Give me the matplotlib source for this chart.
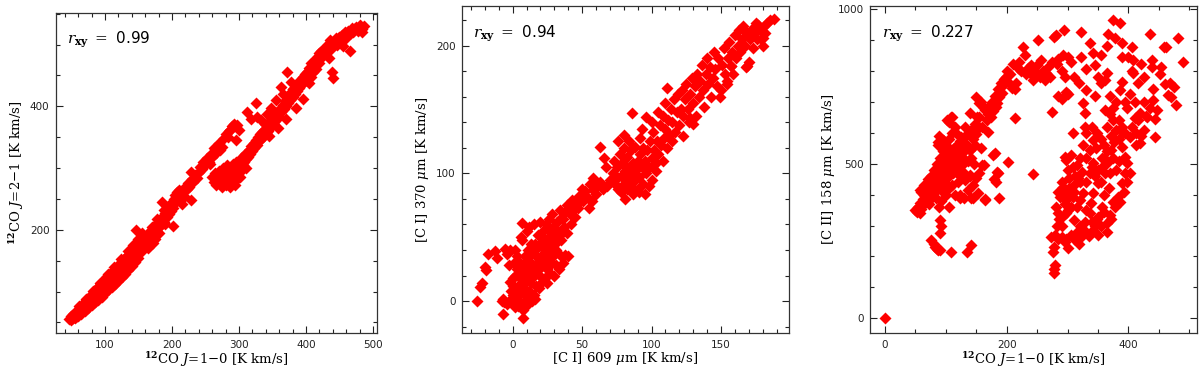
import numpy as np
import matplotlib
matplotlib.use('Agg')
import matplotlib.pyplot as plt
from matplotlib.ticker import MultipleLocator

plt.rcParams['font.family'] = ['DejaVu Serif']
plt.rcParams['mathtext.fontset'] = 'dejavuserif'

# ---- panel 1 : 12CO 2-1 vs 12CO 1-0
co10_a = [47,50,50,52,53,55,55,56,58,58,60,60,61,62,63,64,65,66,67,67,68,69,70,71,72,72,73,74,75,76,77,77,78,79,80,81,82,82,83,84,85,86,87,87,88,89,90,91,92,92,93,94,95,96,97,97,98,99,100,101,102,102,103,104,105,106,107,108,109,110,111,112,113,114,115,116,117,118,119,120,122,123,124,126,127,128,130,131,132,
          60,65,70,75,80,85,90,95,100,105,110,115,120,125,130,135,140,145,150,
          62,72,82,92,104,114,124,134,140,
          135,142,150,155,160,165,170,175,180,190,195,188,178,
          131,133,135,136,138,140,141,143,145,146,147,148,150,151,152,154,155,156,157,158,160,161,163,164,165,167,168,170,172,173,175,176,178,180,181,183,184,185,186,188,190,192,193,195,197,198,200,202,202,
          203,205,206,208,209,210,211,213,215,216,218,220,222,224,226,228,229,230,232,233,235,238,240,242,245,247,250,252,255,257,258,260,262,264,
          260,262,264,266,268,270,272,274,275,276,278,279,280,281,282,284,285,286,287,288,289,290,291,292,293,294,295,296,297,298,299,300,301,302,303,304,305,306,308,309,310,
          265,268,270,272,275,278,280,283,285,287,290,293,295,297,300,
          310,312,313,315,316,318,320,322,323,325,327,328,330,332,334,335,337,338,340,342,343,345,347,348,350,352,353,355,357,358,360,362,363,365,367,368,370,372,373,375,376,378,380,381,383,385,386,388,390,391,393,395,397,398,400,
          312,318,325,327,333,339,342,348,355,362,365,372,378,
          402,404,405,407,408,410,411,413,415,417,419,420,422,425,428,430,432,434,436,438,439,441,443,445,447,450,452,454,456,458,460,461,463,466,467,469,470,472,475,477,480,483,486,484,
          345,358,370,385,395,352,366,380]
co21_a = [55,54,60,58,63,57,62,66,60,68,63,71,67,74,65,70,77,68,73,80,70,76,83,73,79,86,76,82,89,78,85,92,81,88,95,84,91,98,87,94,101,89,97,104,92,100,108,95,103,111,98,106,114,101,109,117,104,112,120,107,115,123,110,118,126,113,121,129,116,124,132,119,127,135,122,130,139,125,134,143,130,138,147,134,143,152,138,148,156,
          60,64,69,73,78,83,87,92,97,102,107,112,117,123,128,135,141,148,154,
          76,88,101,114,129,140,152,160,168,
          165,175,185,165,172,180,205,185,195,210,240,232,218,
          150,143,155,148,158,152,162,156,168,160,199,172,165,178,170,182,175,195,185,178,190,183,186,170,195,188,200,193,178,205,198,210,203,212,205,216,208,245,222,213,228,220,233,226,238,230,243,207,236,
          250,256,245,262,252,258,265,248,242,262,255,270,266,276,270,294,249,282,278,280,289,284,293,302,299,310,305,316,310,307,322,318,332,326,
          285,278,292,272,283,296,276,288,270,300,280,292,272,286,305,278,295,270,284,300,276,290,306,280,296,272,287,310,282,298,292,305,285,312,295,300,318,305,310,322,300,
          325,335,340,330,334,348,355,350,360,361,368,372,345,370,362,
          315,325,318,330,322,335,328,340,333,345,338,350,343,355,348,358,352,362,356,368,360,372,365,378,370,382,375,388,380,392,385,398,390,402,395,408,400,412,405,418,410,423,415,428,420,432,425,438,430,442,435,447,440,452,445,
          391,380,405,383,378,372,388,398,410,432,420,456,440,
          455,438,462,448,470,455,464,475,460,480,486,470,490,482,495,488,500,478,507,492,456,445,503,510,500,512,505,516,497,520,510,513,522,489,518,526,520,525,528,522,532,525,530,520,
          352,365,380,398,412,382,395,428]

# ---- panel 2 : [CI] 370um vs [CI] 609um
ci609 = [-26,-23.6,-22,-20,-19,-17.5,-12.7,-11.5,-5.5,-4.3,-2,1.7,-7.2,7.2,7.7,-8,-7,-6,-4,-2,
         0,1,2,3,4,5,5,6,7,8,8,9,10,10,11,12,12,13,13,14,15,15,16,17,17,18,18,19,20,20,21,22,22,23,24,25,25,26,27,28,28,29,30,31,32,32,33,34,35,35,36,37,38,38,39,40,
         3,5,2,0,-1,4,6,9,11,14,16,7,6,7,10,12,15,18,20,22,24,26,28,19,21,23,25,27,30,33,9,11,13,15,3,1,-3,0,-2,2,4,6,8,10,12,14,16,20,24,29,31,34,
         34,36,39,41,43,44,46,48,50,51,53,55,57,58,60,63,65,68,42,45,47,52,56,58,61,63,66,67,70,55,
         72,73,74,75,76,77,78,78,79,80,80,81,82,82,83,84,84,85,85,86,87,87,88,88,89,90,90,91,92,92,93,94,94,95,95,96,97,98,99,100,100,101,102,103,104,105,106,107,108,109,110,111,112,98,91,76,75,81,80,86,96,87,100,93,105,103,108,110,113,115,114,
         115,116,117,118,119,120,121,122,123,124,125,126,127,128,129,130,131,132,133,134,135,136,137,138,139,140,141,142,143,144,145,146,147,148,149,150,151,152,153,154,155,156,157,158,159,160,161,162,163,164,165,166,167,168,169,170,171,172,173,174,175,176,178,179,180,181,183,185,188,177,182,
         111,128,130,123,154,157,169,180]
ci370 = [0,11,14,27,24,37,39,34,41,37,40,40,-10,-13.6,-7,0,2,-1,-2,1,
         5,0,8,2,12,-2,18,6,22,10,28,15,3,32,20,8,25,30,14,38,22,5,28,35,12,42,24,30,20,45,36,28,50,40,33,48,25,55,38,44,30,58,50,40,62,46,54,36,65,48,30,58,70,36,53,35,
         25,30,20,12,8,-4,-5,0,-2,0,2,48,50,61,55,58,60,52,62,55,60,64,68,10,15,18,14,22,20,25,35,40,45,42,35,30,28,18,15,-5,5,12,18,24,36,18,45,33,42,35,28,52,
         71,64,75,68,79,72,76,82,88,78,82,80,78,87,84,93,88,90,60,66,73,86,92,96,90,121,112,105,95,73,
         100,110,92,105,88,115,98,85,108,92,120,102,88,113,96,105,125,90,118,100,108,84,95,121,103,110,88,97,115,128,105,92,120,84,110,100,118,105,125,112,95,132,118,108,125,115,138,122,110,128,135,120,142,90,85,125,96,80,130,147,144,121,140,135,148,102,145,155,130,125,150,
         140,158,132,148,162,138,150,165,145,158,170,150,140,162,175,155,168,145,178,160,172,185,165,152,178,190,170,183,160,175,195,182,168,190,160,165,185,198,178,170,190,203,184,195,178,208,190,200,212,195,205,215,200,183,210,187,205,213,198,210,218,205,212,205,200,215,218,220,221,216,210,
         167,143,139,129,172,184,184,206]

# ---- panel 3 : [CII] 158um vs 12CO 1-0
co10_c = [0,
          49,52,55,57,58,60,62,63,65,66,68,69,70,71,72,73,74,75,76,77,78,79,80,81,82,83,84,85,86,87,88,89,90,91,92,93,94,95,96,97,98,99,100,101,102,103,104,105,106,107,108,109,110,111,112,113,114,115,116,117,118,119,120,121,122,123,124,125,126,127,128,129,130,132,134,136,138,140,142,144,146,148,150,
          75,80,85,90,95,70,65,60,100,105,110,115,95,100,105,110,115,120,125,130,92,88,84,97,102,110,88,112,118,123,130,137,141,
          76,80,82,86,87,90,90,92,90,109,134,142,
          145,164,187,183,186,202,243,177,160,150,155,145,140,
          140,145,148,150,152,155,155,158,160,162,165,167,170,172,174,176,178,180,182,184,186,188,190,191,193,195,197,199,200,202,205,208,210,213,216,218,221,224,227,230,232,235,238,240,243,246,250,252,255,257,260,263,265,268,271,274,278,281,282,285,290,292,294,296,300,274,285,290,298,301,322,322,337,342,330,310,318,305,
          109,95,87,117,125,139,132,
          87,106,213,165,153,179,184,162,180,139,131,123,106,73,57,150,155,169,158,139,
          277,278,279,276,278,273,280,285,290,295,301,298,305,310,314,318,322,326,331,335,342,345,350,348,311,320,328,337,350,356,360,364,369,372,375,378,383,386,389,392,394,398,402,397,394,389,380,377,371,364,356,347,342,336,337,350,342,339,325,320,309,298,293,287,281,284,298,295,298,306,303,309,315,323,317,331,356,361,342,
          290,286,283,292,300,305,296,302,310,315,330,340,355,365,360,368,355,345,370,380,385,375,365,360,355,348,340,330,325,320,330,340,350,360,372,384,390,395,385,370,290,285,295,300,310,320,312,300,
          375,386,367,378,389,405,389,400,408,421,435,438,438,453,459,461,482,490,460,474,465,470,478,440,440,435,446,443,443,419,419,410,405,402,391,408,402,389,386,375,361,364,361,331,325,328,328,309,350,355,345,395,398,412,415,425,430,425,412,420,365,375,380,370,415,405,365,355,345,428,468,452,425,410]
cii = [0,
       350,345,360,339,372,355,385,365,400,378,382,410,395,420,370,405,430,390,415,440,400,436,420,455,410,445,470,430,455,480,440,465,425,490,450,475,505,460,490,440,470,515,480,455,500,470,525,490,460,510,480,540,500,470,523,495,550,510,480,535,500,560,520,490,545,510,575,530,495,555,566,520,540,590,560,510,600,545,520,580,500,560,610,
       460,480,500,520,540,450,430,410,560,580,600,620,410,400,420,430,400,440,460,470,380,360,390,575,640,650,590,530,470,400,390,415,388,
       253,240,232,225,221,222,275,300,318,215,215,237,
       388,382,390,442,469,506,467,528,495,455,470,430,460,
       600,615,630,716,650,652,695,700,620,680,673,640,660,690,652,700,670,720,684,695,740,716,760,749,730,775,760,781,800,765,790,745,824,740,760,810,830,800,878,851,790,810,792,820,770,800,820,900,780,835,800,770,792,813,781,830,910,916,824,840,800,851,932,780,845,666,720,710,733,727,927,846,889,857,805,780,760,830,
       652,576,560,598,587,663,620,
       571,636,647,386,404,449,474,496,533,463,447,388,361,382,415,597,620,603,550,544,
       145,160,172,215,230,264,270,255,264,248,226,258,270,255,275,240,262,280,280,265,285,300,270,320,318,300,312,339,329,361,345,307,334,320,377,360,393,375,436,410,469,440,469,501,523,555,609,571,544,501,517,550,577,544,469,436,404,372,404,383,393,383,426,393,361,339,339,523,512,528,453,490,496,474,453,442,490,469,501,
       300,320,300,330,350,360,410,420,430,360,350,310,300,280,400,420,440,460,470,480,510,520,540,560,580,600,620,600,560,520,520,490,480,520,590,580,620,600,640,660,440,410,370,400,410,440,460,480,
       964,954,921,905,889,878,846,846,835,824,921,835,813,813,878,878,905,830,759,749,722,716,690,741,706,679,674,646,587,566,663,647,620,587,598,792,727,765,738,679,770,792,674,738,695,663,620,598,780,760,720,700,680,600,640,700,650,610,560,590,620,640,700,720,760,800,880,850,820,655,760,790,780,700]

fig = plt.figure(figsize=(12, 3.69), dpi=100)
W, H = 1200., 369.

def make_ax(l, r, t, b):
    return fig.add_axes([l / W, 1 - b / H, (r - l) / W, (b - t) / H])

ax1 = make_ax(55.7, 377, 13, 333)
ax2 = make_ax(462, 789, 6, 333)
ax3 = make_ax(870.3, 1196.7, 6, 333)

ms = 6
for ax, xs, ys in [(ax1, co10_a, co21_a), (ax2, ci609, ci370), (ax3, co10_c, cii)]:
    ax.plot(xs, ys, 'D', color='#ff0000', ms=ms, mec='none')

ax1.set_xlim(26.5, 506)
ax1.set_ylim(33, 551)
ax1.xaxis.set_major_locator(MultipleLocator(100))
ax1.xaxis.set_minor_locator(MultipleLocator(20))
ax1.yaxis.set_major_locator(MultipleLocator(200))
ax1.yaxis.set_minor_locator(MultipleLocator(50))

ax2.set_xlim(-36.5, 199)
ax2.set_ylim(-25, 231)
ax2.xaxis.set_major_locator(MultipleLocator(50))
ax2.xaxis.set_minor_locator(MultipleLocator(10))
ax2.yaxis.set_major_locator(MultipleLocator(100))
ax2.yaxis.set_minor_locator(MultipleLocator(20))

ax3.set_xlim(-24, 512)
ax3.set_ylim(-47.5, 1010)
ax3.xaxis.set_major_locator(MultipleLocator(200))
ax3.xaxis.set_minor_locator(MultipleLocator(50))
ax3.yaxis.set_major_locator(MultipleLocator(500))
ax3.yaxis.set_minor_locator(MultipleLocator(100))

lfs = 9.5
co_x = r'$^{\mathbf{12}}$CO $J$=1$-$0 [K km/s]'
ax1.set_xlabel(co_x, fontsize=lfs, labelpad=0)
ax1.set_ylabel(r'$^{\mathbf{12}}$CO $J$=2$-$1 [K km/s]', fontsize=lfs, labelpad=3)
ax2.set_xlabel(r'[C I] 609 $\mu$m [K km/s]', fontsize=lfs, labelpad=0)
ax2.set_ylabel(r'[C I] 370 $\mu$m [K km/s]', fontsize=lfs, labelpad=4)
ax3.set_xlabel(co_x, fontsize=lfs, labelpad=0)
ax3.set_ylabel(r'[C II] 158 $\mu$m [K km/s]', fontsize=lfs, labelpad=0.5)

for ax, r in [(ax1, '0.99'), (ax2, '0.94'), (ax3, '0.227')]:
    ax.tick_params(which='both', direction='in', top=True, right=True,
                   labelsize=7.5, colors='#222222', width=0.8)
    ax.tick_params(which='major', length=5)
    ax.tick_params(which='minor', length=3)
    ax.tick_params(axis='x', pad=5)
    ax.tick_params(axis='y', pad=4.5)
    for lab in ax.get_xticklabels() + ax.get_yticklabels():
        lab.set_family('DejaVu Sans')
    for s in ax.spines.values():
        s.set_linewidth(0.9)
        s.set_color('#333333')
    ax.text(0.035, 0.915, r'$\mathit{r}_{\mathbf{xy}}$ $=$ ' + r,
            transform=ax.transAxes, fontsize=11, va='center', ha='left',
            family='DejaVu Sans')

fig.savefig('out.png', dpi=100)
